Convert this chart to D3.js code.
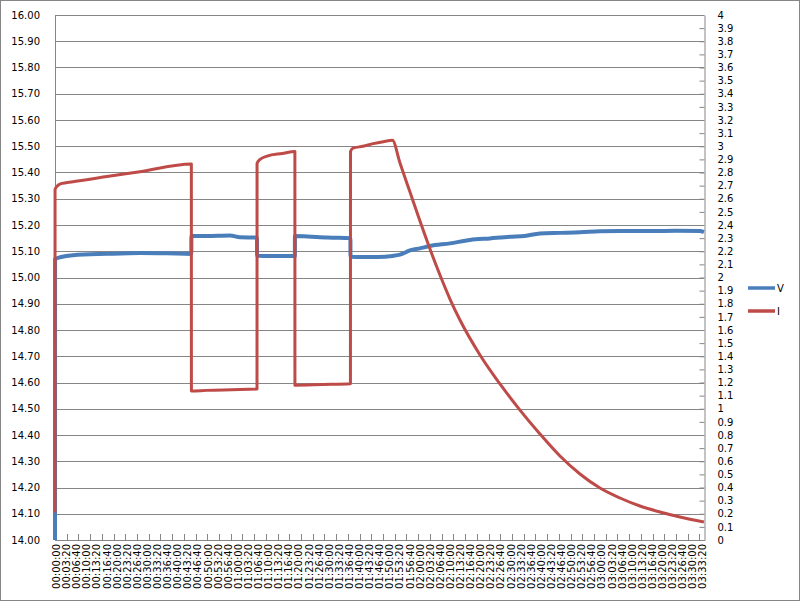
<!DOCTYPE html>
<html>
<head>
<meta charset="utf-8">
<script src="https://cdn.jsdelivr.net/npm/d3@7"></script>
<style>
  html, body { margin: 0; padding: 0; background: #fff; }
  svg { display: block; }
  text { font-family: "DejaVu Sans", Verdana, sans-serif; fill: #000; }
</style>
</head>
<body>
<svg id="chart" width="800" height="601"></svg>
<script>
// ---------- DATA (time in seconds from start) ----------
const timeV = [0, 1, 120, 356, 1030, 1683, 2200, 2700,
  2701, 3000, 3465, 3663, 4000,
  4001, 4300, 4750,
  4751, 5000, 5400, 5850,
  5851, 6100, 6400, 6680, 6831, 7029, 7227, 7425, 7821, 8217, 8613, 9009,
  9300, 9603, 10000, 10400, 10791, 11200, 11781, 12300, 12771, 12850];
const voltage = [14.00, 15.07, 15.078, 15.085, 15.09, 15.093, 15.092, 15.09,
  15.158, 15.158, 15.16, 15.153, 15.152,
  15.083, 15.082, 15.082,
  15.158, 15.156, 15.152, 15.150,
  15.079, 15.078, 15.078, 15.082, 15.087, 15.103, 15.111, 15.12, 15.13, 15.143, 15.149, 15.155,
  15.158, 15.168, 15.170, 15.172, 15.176, 15.177, 15.177, 15.178, 15.177, 15.173];

const timeI = [0, 1, 40, 120, 356, 1030, 1683, 2700,
  2701, 3000, 3500, 4000,
  4001, 4060, 4200, 4500, 4750,
  4751, 5300, 5850,
  5851, 5900, 6100, 6300, 6500, 6680,
  6831, 7029, 7227, 7425, 7623, 7821, 8019, 8415, 8811, 9207, 9603,
  9999, 10395, 10791, 11187, 11583, 11979, 12375, 12850];
const current = [0.21, 2.67, 2.695, 2.715, 2.73, 2.769, 2.806, 2.865,
  1.135, 1.14, 1.145, 1.15,
  2.87, 2.90, 2.925, 2.945, 2.96,
  1.18, 1.185, 1.19,
  2.96, 2.985, 3.0, 3.02, 3.035, 3.045,
  2.872, 2.651, 2.430, 2.217, 2.019, 1.836, 1.676, 1.410, 1.189, 0.990, 0.808,
  0.640, 0.503, 0.396, 0.320, 0.259, 0.213, 0.175, 0.137];

const leftTicks = d3.range(0, 21).map(i => 14 + i / 10);   // 14.00 .. 16.00
const rightTicks = d3.range(0, 41).map(i => i / 10);        // 0 .. 4
const xLabelTimes = d3.range(0, 12801, 200);                // every 00:03:20
const xMinorStep = 232;                                     // category tick spacing (s)
const seriesNames = ["V", "I"];
const seriesColors = ["#4a7ebb", "#be4b48"];

// ---------- LAYOUT ----------
const svg = d3.select("#chart");
const L = 55, R = 704, T = 15, B = 540;
const x = d3.scaleLinear().domain([0, 12851]).range([L, R]);
const yL = d3.scaleLinear().domain([14, 16]).range([B, T]);
const yR = d3.scaleLinear().domain([0, 4]).range([B, T]);
const gridColor = "#868686";

// outer border
svg.append("rect").attr("x", 0.5).attr("y", 0.5).attr("width", 799).attr("height", 600)
  .attr("fill", "#fff").attr("stroke", gridColor);

// gridlines
svg.append("g").selectAll("line").data(leftTicks).join("line")
  .attr("x1", L).attr("x2", R)
  .attr("y1", d => Math.round(yL(d)) + 0.5).attr("y2", d => Math.round(yL(d)) + 0.5)
  .attr("stroke", gridColor).attr("stroke-width", 1);

// left axis (labels only)
const gl = svg.append("g").attr("transform", `translate(${L},0)`)
  .call(d3.axisLeft(yL).tickValues(leftTicks).tickSize(0).tickPadding(15).tickFormat(d3.format(".2f")));
gl.select(".domain").remove();
gl.selectAll("text").attr("font-size", 10).attr("font-family", "DejaVu Sans");

// right axis
const gr = svg.append("g").attr("transform", `translate(${R + 0.5},0)`)
  .call(d3.axisRight(yR).tickValues(rightTicks).tickSizeInner(-5).tickSizeOuter(0).tickPadding(13)
    .tickFormat(d => String(d)));
gr.selectAll(".domain").attr("stroke", gridColor);
gr.selectAll(".tick line").attr("stroke", gridColor);
gr.selectAll("text").attr("font-size", 10).attr("font-family", "DejaVu Sans");

// bottom axis line + inward minor ticks
svg.append("line").attr("x1", L).attr("x2", R + 1).attr("y1", B + 0.5).attr("y2", B + 0.5)
  .attr("stroke", gridColor);
svg.append("line").attr("x1", L + 0.5).attr("x2", L + 0.5).attr("y1", T).attr("y2", B + 1)
  .attr("stroke", gridColor);
const minorTimes = d3.range(0, 12851, xMinorStep);
svg.append("g").selectAll("line").data(minorTimes).join("line")
  .attr("x1", d => Math.round(x(d)) + 0.5).attr("x2", d => Math.round(x(d)) + 0.5)
  .attr("y1", B - 6).attr("y2", B)
  .attr("stroke", gridColor);

// x labels (rotated)
const fmtTime = s => {
  const h = Math.floor(s / 3600), m = Math.floor((s % 3600) / 60), sec = s % 60;
  const p = v => String(v).padStart(2, "0");
  return `${p(h)}:${p(m)}:${p(sec)}`;
};
svg.append("g").selectAll("text").data(xLabelTimes).join("text")
  .attr("transform", d => `translate(${x(d) + 1.5},544) rotate(-90)`)
  .attr("text-anchor", "end").attr("dy", "0.35em")
  .attr("font-size", 10)
  .text(fmtTime);

// series
const plot = svg.append("g");
svg.append("clipPath").attr("id", "clip").append("rect")
  .attr("x", L - 3).attr("y", T - 3).attr("width", R - L + 6).attr("height", B - T + 3);
plot.attr("clip-path", "url(#clip)");

const vData = timeV.map((t, i) => [t, voltage[i]]);
const iData = timeI.map((t, i) => [t, current[i]]);

plot.append("path").datum(vData)
  .attr("d", d3.line().curve(d3.curveMonotoneX).x(d => x(d[0])).y(d => yL(d[1])))
  .attr("fill", "none").attr("stroke", seriesColors[0]).attr("stroke-width", 4)
  .attr("stroke-linejoin", "round");
plot.append("path").datum(iData)
  .attr("d", d3.line().curve(d3.curveMonotoneX).x(d => x(d[0])).y(d => yR(d[1])))
  .attr("fill", "none").attr("stroke", seriesColors[1]).attr("stroke-width", 3)
  .attr("stroke-linejoin", "round");

// legend
const lg = svg.append("g").selectAll("g").data(seriesNames).join("g")
  .attr("transform", (d, i) => `translate(748,${288 + i * 23})`);
lg.append("line").attr("x1", 0).attr("x2", 27).attr("y1", 0).attr("y2", 0)
  .attr("stroke", (d, i) => seriesColors[i]).attr("stroke-width", 3.5);
lg.append("text").attr("x", 29).attr("dy", "0.35em").attr("font-size", 10).text(d => d);
</script>
</body>
</html>
